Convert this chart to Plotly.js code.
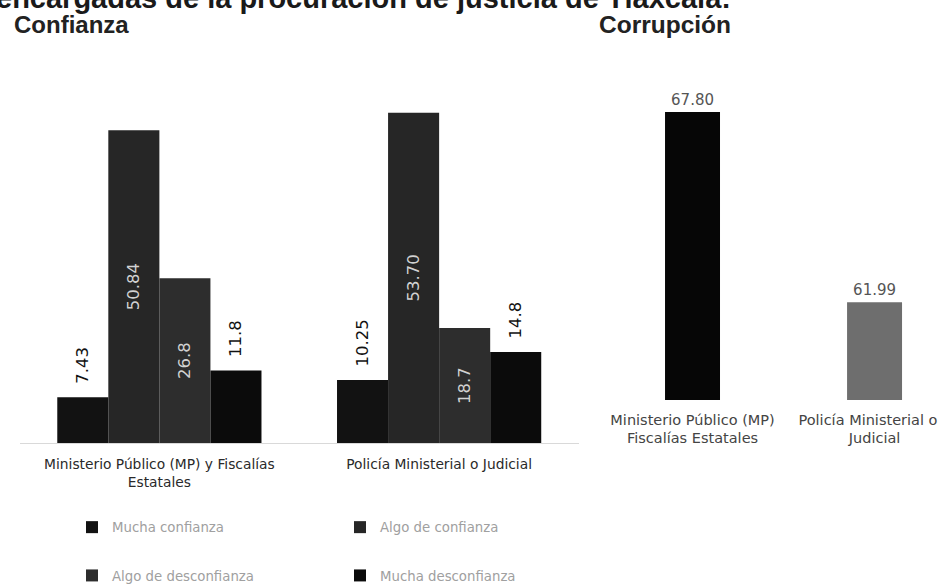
<!DOCTYPE html>
<html>
<head>
<meta charset="utf-8">
<script src="https://cdn.plot.ly/plotly-3.0.1.min.js"></script>
<style>
  html, body { margin: 0; padding: 0; background: #ffffff; }
  #chart { width: 941px; height: 585px; }
</style>
</head>
<body>
<div id="chart"></div>
<script>
// ---- Data ----
const categoriasConfianza = ["Ministerio Público (MP) y Fiscalías<br>Estatales", "Policía Ministerial o Judicial"];
const seriesNombres = ["Mucha confianza", "Algo de confianza", "Algo de desconfianza", "Mucha desconfianza"];
const muchaConfianza = [7.43, 10.25];
const algoConfianza = [50.84, 53.70];
const algoDesconfianza = [26.8, 18.7];
const muchaDesconfianza = [11.8, 14.8];
const etiquetasMuchaConfianza = ["7.43", "10.25"];
const etiquetasAlgoConfianza = ["50.84", "53.70"];
const etiquetasAlgoDesconfianza = ["26.8", "18.7"];
const etiquetasMuchaDesconfianza = ["11.8", "14.8"];

const categoriasCorrupcion = ["Ministerio Público (MP)<br>Fiscalías Estatales", "Policía Ministerial o y<br>Judicial"];
const corrupcion = [67.80, 61.99];

// ---- Styles ----
const FONT = "Liberation Sans, Arial, sans-serif";
const WIDE = "DejaVu Sans, Verdana, sans-serif";
const coloresConfianza = ["#121212", "#262626", "#2d2d2d", "#0b0b0b"];
const posiciones = ["outside", "inside", "inside", "outside"];
const valores = [muchaConfianza, algoConfianza, algoDesconfianza, muchaDesconfianza];
const etiquetas = [etiquetasMuchaConfianza, etiquetasAlgoConfianza, etiquetasAlgoDesconfianza, etiquetasMuchaDesconfianza];
const legendas = ["legend", "legend2", "legend", "legend2"];

const traces = valores.map((v, i) => ({
  type: "bar",
  name: seriesNombres[i],
  x: categoriasConfianza,
  y: v,
  text: etiquetas[i],
  texttemplate: posiciones[i] === "outside" ? "\u00a0\u00a0%{text}" : "%{text}",
  textposition: posiciones[i],
  insidetextanchor: "middle",
  textangle: -90,
  constraintext: "none",
  cliponaxis: false,
  textfont: { family: WIDE, size: 16.5, color: posiciones[i] === "inside" ? "#d2d2d2" : "#111111" },
  marker: { color: coloresConfianza[i], line: { width: 0 } },
  xaxis: "x", yaxis: "y",
  legend: legendas[i],
  legendgroup: "g" + i,
  hoverinfo: "skip"
}));

traces.push({
  type: "bar",
  x: categoriasCorrupcion,
  y: corrupcion,
  width: 0.302,
  texttemplate: "%{y:.2f}",
  textposition: "outside",
  cliponaxis: false,
  textfont: { family: WIDE, size: 15, color: "#555555" },
  marker: { color: ["#060606", "#6e6e6e"], line: { width: 0 } },
  xaxis: "x2", yaxis: "y2",
  showlegend: false,
  hoverinfo: "skip"
});

const W = 941, H = 585;
const px = v => v / W;
const py = v => (H - v) / H;

const layout = {
  width: W, height: H,
  margin: { l: 0, r: 0, t: 0, b: 0, pad: 0, autoexpand: false },
  paper_bgcolor: "#ffffff",
  plot_bgcolor: "rgba(0,0,0,0)",
  font: { family: FONT, color: "#222222" },
  barmode: "group",
  bargap: 0.27,
  bargroupgap: 0,
  hovermode: false,
  xaxis: {
    domain: [px(19.5), px(579)],
    range: [-0.5, 1.5],
    type: "category",
    showline: true, linecolor: "#d9d9d9", linewidth: 1,
    ticks: "", showgrid: false, zeroline: false,
    ticklabelstandoff: 8,
    tickfont: { family: WIDE, size: 13.8, color: "#2a2a2a" },
    fixedrange: true
  },
  yaxis: {
    domain: [py(443), py(74)],
    range: [0, 60],
    visible: false, fixedrange: true
  },
  xaxis2: {
    domain: [px(601.5), 1],
    range: [-0.5, 1.365],
    type: "category",
    anchor: "y2",
    showline: false, ticks: "", showgrid: false, zeroline: false,
    ticklabelstandoff: 9,
    tickfont: { family: WIDE, size: 14.5, color: "#444444" },
    fixedrange: true
  },
  yaxis2: {
    domain: [py(400), py(40)],
    range: [59, 70],
    anchor: "x2",
    visible: false, fixedrange: true
  },
  legend: {
    x: px(72), xanchor: "left",
    y: py(512), yanchor: "top",
    orientation: "v",
    traceorder: "grouped",
    tracegroupgap: 28,
    bgcolor: "rgba(0,0,0,0)",
    font: { family: WIDE, size: 13.3, color: "#a0a0a0" }
  },
  legend2: {
    x: px(340), xanchor: "left",
    y: py(512), yanchor: "top",
    orientation: "v",
    traceorder: "grouped",
    tracegroupgap: 28,
    bgcolor: "rgba(0,0,0,0)",
    font: { family: WIDE, size: 13.3, color: "#a0a0a0" }
  },
  annotations: [
    { text: "<b>encargadas de la procuración de justicia de Tlaxcala:</b>", xref: "paper", yref: "paper",
      x: px(-6), xanchor: "left", y: py(-2), yanchor: "middle", showarrow: false,
      font: { family: FONT, size: 29, color: "#1a1a1a" } },
    { text: "<b>Confianza</b>", xref: "paper", yref: "paper",
      x: px(12), xanchor: "left", y: py(25), yanchor: "middle", showarrow: false,
      font: { family: FONT, size: 24, color: "#222222" } },
    { text: "<b>Corrupción</b>", xref: "paper", yref: "paper",
      x: px(597), xanchor: "left", y: py(25), yanchor: "middle", showarrow: false,
      font: { family: FONT, size: 24.5, color: "#222222" } }
  ]
};

Plotly.newPlot("chart", traces, layout, { displayModeBar: false, staticPlot: true });
</script>
</body>
</html>
